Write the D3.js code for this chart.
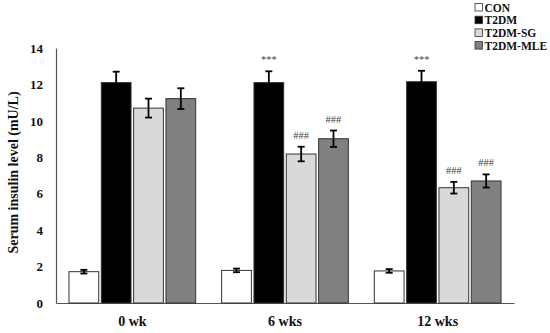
<!DOCTYPE html>
<html><head><meta charset="utf-8">
<script src="https://cdn.jsdelivr.net/npm/d3@7/dist/d3.min.js"></script>
<style>body{margin:0;background:#fff}svg{display:block}</style>
</head><body><svg id="c" width="550" height="333"></svg>
<script>
const categories = ["0 wk", "6 wks", "12 wks"];
const groups = ["CON", "T2DM", "T2DM-SG", "T2DM-MLE"];
const CON = [1.72, 1.79, 1.76];
const T2DM = [12.1, 12.1, 12.15];
const SG = [10.7, 8.18, 6.33];
const MLE = [11.22, 9.02, 6.7];
const CON_err = [0.1, 0.1, 0.1];
const T2DM_err = [0.6, 0.62, 0.6];
const SG_err = [0.52, 0.4, 0.32];
const MLE_err = [0.57, 0.45, 0.36];
const marks = [["", "", "", ""], ["", "***", "###", "###"], ["", "***", "###", "###"]];
const yTicks = [0, 2, 4, 6, 8, 10, 12, 14];
const colors = ["#ffffff", "#000000", "#d9d9d9", "#808080"];

(function () {
const values = [CON, T2DM, SG, MLE];
const errs = [CON_err, T2DM_err, SG_err, MLE_err];
const svg = d3.select("#c");
const serif = "'Liberation Serif','DejaVu Serif',serif";
const mL = 56, mR = 514, mT = 48, mB = 303;
const y = d3.scaleLinear().domain([0, 14]).range([mB, mT]);
const x0 = d3.scaleBand().domain(categories).range([mL, mR]).paddingInner(0.17).paddingOuter(0.085);
const x1 = d3.scaleBand().domain(groups).range([0, x0.bandwidth()]).paddingInner(0.08);

const ya = svg.append("g").attr("transform", `translate(${mL},0)`)
  .call(d3.axisLeft(y).tickValues(yTicks).tickSize(0).tickPadding(13));
ya.select(".domain").attr("stroke", "#555").attr("stroke-width", 1.2);
ya.selectAll("text").attr("font-family", serif).attr("font-weight", "bold").attr("font-size", 13).attr("fill", "#111");
const xa = svg.append("g").attr("transform", `translate(0,${mB})`)
  .call(d3.axisBottom(x0).tickSize(0).tickPadding(13));
xa.select(".domain").attr("stroke", "#555").attr("stroke-width", 1.2);
xa.selectAll("text").attr("font-family", serif).attr("font-weight", "bold").attr("font-size", 14).attr("fill", "#111");

categories.forEach((c, i) => {
  groups.forEach((g, j) => {
    const v = values[j][i], e = errs[j][i];
    const bx = x0(c) + x1(g), bw = x1.bandwidth();
    svg.append("rect").attr("x", bx).attr("y", y(v)).attr("width", bw).attr("height", y(0) - y(v))
      .attr("fill", colors[j]).attr("stroke", "#333").attr("stroke-width", 1);
    const cx = bx + bw / 2;
    const eg = svg.append("g").attr("stroke", "#000").attr("stroke-width", 1.8);
    eg.append("line").attr("x1", cx).attr("x2", cx).attr("y1", y(v - e)).attr("y2", y(v + e));
    eg.append("line").attr("x1", cx - 3.5).attr("x2", cx + 3.5).attr("y1", y(v - e)).attr("y2", y(v - e));
    eg.append("line").attr("x1", cx - 3.5).attr("x2", cx + 3.5).attr("y1", y(v + e)).attr("y2", y(v + e));
    if (marks[i][j]) {
      svg.append("text").attr("x", cx).attr("y", y(v + e) - 8).attr("text-anchor", "middle")
        .attr("font-family", serif).attr("font-size", 10.5).attr("fill", "#444").text(marks[i][j]);
    }
  });
});

svg.append("text").attr("transform", `translate(18,${(mT + mB) / 2 - 3}) rotate(-90)`)
  .attr("text-anchor", "middle").attr("font-family", serif).attr("font-weight", "bold")
  .attr("font-size", 14).attr("fill", "#111").text("Serum insulin level (mU/L)");

const lg = svg.append("g").attr("transform", "translate(475,3)");
groups.forEach((g, j) => {
  const row = lg.append("g").attr("transform", `translate(0,${j * 12.7})`);
  row.append("rect").attr("x", 0).attr("y", 0.5).attr("width", 7.5).attr("height", 7.5)
    .attr("fill", colors[j]).attr("stroke", "#333").attr("stroke-width", 0.8);
  row.append("text").attr("x", 9.5).attr("y", 8.5).attr("font-family", serif).attr("font-weight", "bold")
    .attr("font-size", 11.5).attr("fill", "#111").text(g);
});
})();
</script></body></html>
